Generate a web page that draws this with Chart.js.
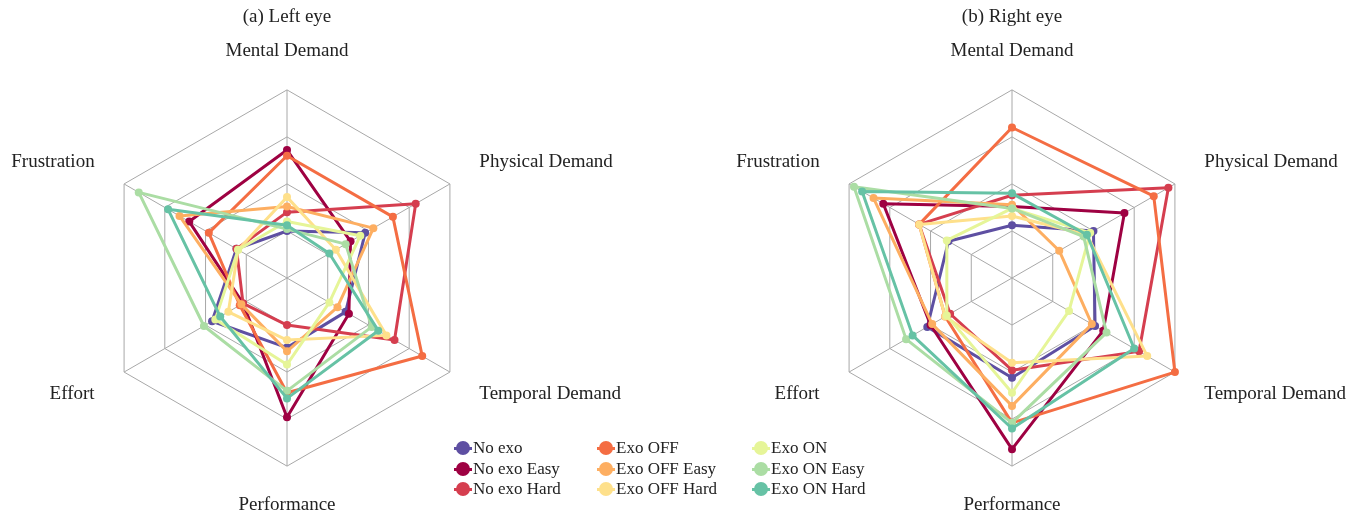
<!DOCTYPE html>
<html>
<head>
<meta charset="utf-8">
<script src="https://cdn.jsdelivr.net/npm/chart.js@4/dist/chart.umd.min.js"></script>
<style>
  html, body { margin: 0; padding: 0; background: #fff; }
  body { width: 1364px; height: 514px; position: relative; overflow: hidden; font-family: "Liberation Serif", serif; }
  canvas { position: absolute; top: 0; }
  #legend { position: absolute; left: 0; top: 0; }
  .item { position: absolute; height: 20px; display: flex; align-items: center; font-size: 17px; color: #222; white-space: nowrap; }
  .handle { position: relative; width: 18px; height: 20px; margin-right: 1px; }
  .handle .ln { position: absolute; left: 0; top: 8.5px; width: 18px; height: 3px; }
  .handle .dot { position: absolute; left: 2px; top: 3px; width: 14px; height: 14px; border-radius: 50%; }
</style>
</head>
<body>
<canvas id="leftEye" width="780" height="514" style="left:-103px"></canvas>
<canvas id="rightEye" width="780" height="514" style="left:622px"></canvas>
<div id="legend"></div>
<script>
// NASA-TLX subscales, clockwise from the top
const AXES = ['Mental Demand', 'Physical Demand', 'Temporal Demand', 'Performance', 'Effort', 'Frustration'];

const SERIES = ['No exo', 'No exo Easy', 'No exo Hard',
                'Exo OFF', 'Exo OFF Easy', 'Exo OFF Hard',
                'Exo ON', 'Exo ON Easy', 'Exo ON Hard'];

const COLORS = ['#5e4fa2', '#9e0142', '#d53e4f',
                '#f46d43', '#fdae61', '#fee08b',
                '#e6f598', '#abdda4', '#66c2a5'];

// Left eye scores (0-100)
const leftNoExo       = [25, 48, 36, 37, 46, 31];
const leftNoExoEasy   = [68, 39, 38, 74, 27, 60];
const leftNoExoHard   = [35, 79, 66, 25, 27, 31];
const leftExoOff      = [65, 65, 83, 61, 29, 48];
const leftExoOffEasy  = [38, 53, 31, 39, 28, 66];
const leftExoOffHard  = [43, 30, 61, 33, 36, 30];
const leftExoOn       = [30, 45, 26, 46, 44, 30];
const leftExoOnEasy   = [26, 36, 52, 60, 51, 91];
const leftExoOnHard   = [28, 26, 56, 64, 41, 73];

// Right eye scores (0-100)
const rightNoExo      = [28, 50, 51, 53, 52, 39];
const rightNoExoEasy  = [38, 69, 56, 91, 50, 79];
const rightNoExoHard  = [44, 96, 78, 49, 38, 57];
const rightExoOff     = [80, 87, 100, 77, 41, 57];
const rightExoOffEasy = [39, 29, 49, 68, 49, 85];
const rightExoOffHard = [33, 46, 83, 45, 41, 57];
const rightExoOn      = [37, 48, 35, 61, 40, 40];
const rightExoOnEasy  = [37, 44, 58, 77, 65, 97];
const rightExoOnHard  = [45, 46, 75, 80, 61, 92];

const LEFT = [leftNoExo, leftNoExoEasy, leftNoExoHard, leftExoOff, leftExoOffEasy,
              leftExoOffHard, leftExoOn, leftExoOnEasy, leftExoOnHard];
const RIGHT = [rightNoExo, rightNoExoEasy, rightNoExoHard, rightExoOff, rightExoOffEasy,
               rightExoOffHard, rightExoOn, rightExoOnEasy, rightExoOnHard];

const FONT = '"Liberation Serif", "Times New Roman", serif';
const TEXT = '#222';
const GRID = '#a8a8a8';

function radar(id, title, rows) {
  new Chart(document.getElementById(id), {
    type: 'radar',
    data: {
      labels: AXES,
      datasets: rows.map((vals, i) => ({
        label: SERIES[i],
        data: vals,
        borderColor: COLORS[i],
        backgroundColor: COLORS[i],
        pointBackgroundColor: COLORS[i],
        pointBorderColor: COLORS[i],
        pointBorderWidth: 0,
        pointRadius: 4,
        borderWidth: 3,
        borderJoinStyle: 'round',
        fill: false,
        tension: 0,
        order: rows.length - i   // later series painted on top
      }))
    },
    options: {
      responsive: false,
      animation: false,
      events: [],
      layout: { padding: { top: 0, bottom: 4, left: 0, right: 0 } },
      plugins: {
        legend: { display: false },
        tooltip: { enabled: false },
        title: {
          display: true,
          text: title,
          color: TEXT,
          font: { family: FONT, size: 19, weight: 'normal', lineHeight: 1.2 },
          padding: { top: 6, bottom: 17.2 }
        }
      },
      scales: {
        r: {
          min: 0,
          max: 100,
          ticks: { display: false, stepSize: 25 },
          grid: { color: GRID, lineWidth: 1 },
          angleLines: { color: GRID, lineWidth: 1 },
          pointLabels: {
            color: TEXT,
            padding: 34,
            font: { family: FONT, size: 19, lineHeight: 0.52 }
          }
        }
      }
    }
  });
}

radar('leftEye', '(a) Left eye', LEFT);
radar('rightEye', '(b) Right eye', RIGHT);

// Shared legend, three columns of three entries
const legend = document.getElementById('legend');
const colX = [454, 597, 752];
const rowY = [438, 459, 479];
SERIES.forEach((name, i) => {
  const item = document.createElement('div');
  item.className = 'item';
  item.style.left = colX[Math.floor(i / 3)] + 'px';
  item.style.top = rowY[i % 3] + 'px';
  const h = document.createElement('span');
  h.className = 'handle';
  const ln = document.createElement('span');
  ln.className = 'ln';
  ln.style.background = COLORS[i];
  const dot = document.createElement('span');
  dot.className = 'dot';
  dot.style.background = COLORS[i];
  h.appendChild(ln);
  h.appendChild(dot);
  item.appendChild(h);
  item.appendChild(document.createTextNode(name));
  legend.appendChild(item);
});
</script>
</body>
</html>
